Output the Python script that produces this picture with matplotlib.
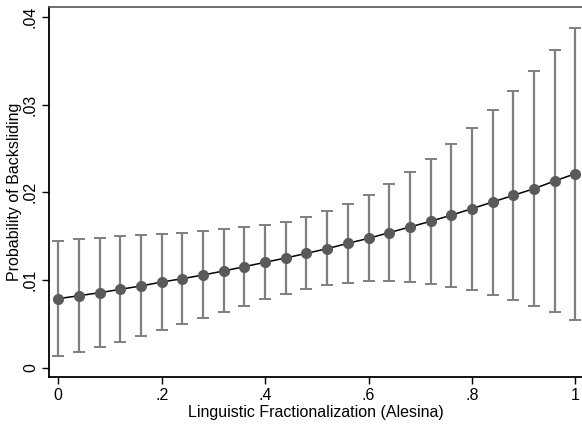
import matplotlib
matplotlib.use("Agg")
import matplotlib.pyplot as plt
import numpy as np

x_vals = [0.00, 0.04, 0.08, 0.12, 0.16, 0.20, 0.24, 0.28, 0.32, 0.36, 0.40, 0.44, 0.48,
          0.52, 0.56, 0.60, 0.64, 0.68, 0.72, 0.76, 0.80, 0.84, 0.88, 0.92, 0.96, 1.00]
prob = [0.00787, 0.00821, 0.00855, 0.00894, 0.00932, 0.00977, 0.01015, 0.01057, 0.01103,
        0.01152, 0.01202, 0.01251, 0.01304, 0.01357, 0.01418, 0.01475, 0.01540, 0.01604,
        0.01669, 0.01739, 0.01813, 0.01889, 0.01965, 0.02041, 0.02129, 0.02212]
upper = [0.01448, 0.01468, 0.01483, 0.01498, 0.01517, 0.01528, 0.01540, 0.01559, 0.01578,
         0.01600, 0.01630, 0.01665, 0.01718, 0.01783, 0.01867, 0.01969, 0.02091, 0.02228,
         0.02380, 0.02551, 0.02737, 0.02938, 0.03151, 0.03379, 0.03622, 0.03877]
lower = [0.00137, 0.00183, 0.00240, 0.00297, 0.00362, 0.00426, 0.00495, 0.00567, 0.00639,
         0.00707, 0.00780, 0.00840, 0.00894, 0.00940, 0.00969, 0.00985, 0.00989, 0.00977,
         0.00958, 0.00924, 0.00882, 0.00829, 0.00775, 0.00707, 0.00632, 0.00547]

xticks = [0, 0.2, 0.4, 0.6, 0.8, 1.0]
xticklabels = ["0", ".2", ".4", ".6", ".8", "1"]
yticks = [0, 0.01, 0.02, 0.03, 0.04]
yticklabels = ["0", ".01", ".02", ".03", ".04"]

plt.rcParams['font.family'] = ['Liberation Sans', 'DejaVu Sans']

fig = plt.figure(figsize=(5.82, 4.25), dpi=100)
ax = fig.add_axes([49/582, (425-377.3)/425, (582-49)/582, (377.3-7)/425])

x = np.array(x_vals)
p = np.array(prob)
ax.errorbar(x, p, yerr=[p - np.array(lower), np.array(upper) - p], fmt='none',
            ecolor='#7f7f7f', elinewidth=1.6, capsize=4, capthick=1.4, zorder=2)
ax.plot(x, p, color='black', linewidth=1.1, zorder=3)
ax.plot(x, p, 'o', color='#5a5a5a', markersize=8, markeredgewidth=0, zorder=4)

ax.set_xlim((49 - 58.3) / 517, (582 - 58.3) / 517)
ax.set_ylim((367.7 - 377.3) / 8770, (367.7 - 7) / 8770)

ax.set_xticks(xticks)
ax.set_xticklabels(xticklabels)
ax.set_yticks(yticks)
ax.set_yticklabels(yticklabels, rotation=90, va='center')

ax.tick_params(axis='both', direction='out', length=5, width=1, colors='black',
               labelsize=11.5, pad=3)
for s in ['left', 'bottom']:
    ax.spines[s].set_linewidth(1.3)
    ax.spines[s].set_color('black')
ax.spines['right'].set_visible(False)
ax.spines['top'].set_color('#555555')
ax.spines['top'].set_linewidth(1.2)

ax.set_xlabel("Linguistic Fractionalization (Alesina)", fontsize=11.5, labelpad=1)
ax.set_ylabel("Probability of Backsliding", fontsize=11.5, labelpad=1)

fig.savefig("out.png", dpi=100)
